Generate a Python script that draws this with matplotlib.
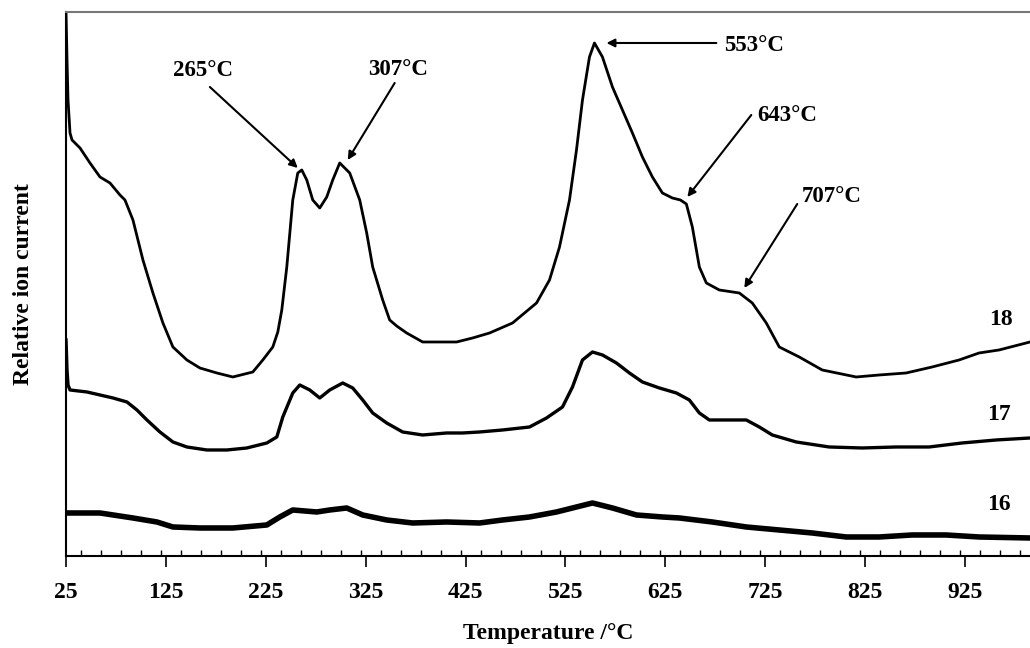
import matplotlib
matplotlib.use("Agg")
import matplotlib.pyplot as plt
from matplotlib.ticker import MultipleLocator, FixedLocator

plt.rcParams['font.family'] = ['Liberation Serif', 'DejaVu Serif']
plt.rcParams['font.weight'] = 'bold'

# (temperature in degC, relative ion current in arbitrary units)
t18 = [25, 26, 27, 29, 31, 39, 49, 59, 69, 79, 84, 92, 102, 112, 122, 132, 146, 159, 176, 192,
       212, 222, 232, 237, 241, 246, 252, 257, 261, 266, 272, 279, 286, 292, 299, 309, 319, 326,
       332, 342, 349, 356, 366, 382, 399, 416, 432, 449, 472, 496, 509, 519, 529, 536, 542, 549,
       554, 562, 572, 582, 592, 602, 612, 622, 632, 640, 646, 652, 659, 666, 679, 699, 712, 726,
       739, 759, 782, 816, 839, 866, 892, 919, 939, 959, 990]
y18 = [544, 496, 456, 423, 416, 408, 393, 379, 373, 361, 356, 336, 296, 263, 233, 209, 196, 188, 183, 179,
       184, 196, 209, 224, 246, 289, 356, 383, 386, 376, 356, 348, 359, 376, 393, 383, 356, 323,
       289, 256, 236, 230, 223, 214, 214, 214, 218, 223, 233, 253, 276, 309, 356, 406, 456, 499,
       513, 499, 469, 446, 423, 399, 379, 363, 358, 356, 352, 329, 289, 273, 266, 263, 253, 233,
       209, 199, 186, 179, 181, 183, 189, 196, 203, 206, 214]

t17 = [25, 26, 27, 29, 46, 59, 72, 86, 96, 106, 119, 132, 146, 166, 186, 206, 226, 236, 242, 252,
       259, 269, 279, 289, 302, 312, 322, 332, 346, 362, 382, 406, 422, 439, 462, 489, 506, 522,
       532, 542, 552, 562, 576, 589, 602, 619, 636, 649, 659, 669, 689, 706, 719, 732, 756, 789,
       822, 856, 889, 922, 956, 990]
y17 = [216, 186, 171, 166, 164, 161, 158, 154, 146, 136, 124, 114, 109, 106, 106, 108, 113, 119, 139, 163,
       171, 166, 158, 166, 173, 168, 156, 143, 133, 124, 121, 123, 123, 124, 126, 129, 138, 149,
       169, 196, 204, 201, 193, 183, 174, 168, 163, 156, 143, 136, 136, 136, 129, 121, 114, 109,
       108, 109, 109, 113, 116, 118]

t16 = [25, 59, 92, 116, 132, 159, 192, 226, 239, 252, 276, 289, 306, 322, 346, 372, 406, 439, 462,
       489, 516, 536, 552, 572, 596, 622, 639, 672, 706, 739, 772, 806, 839, 872, 906, 939, 990]
y16 = [43, 43, 38, 34, 29, 28, 28, 31, 39, 46, 44, 46, 48, 41, 36, 33, 34, 33, 36,
       39, 44, 49, 53, 48, 41, 39, 38, 34, 29, 26, 23, 19, 19, 21, 21, 19, 18]

peak_labels = ['265°C', '307°C', '553°C', '643°C', '707°C']
curve_labels = ['18', '17', '16']
x_ticks = [25, 125, 225, 325, 425, 525, 625, 725, 825, 925]

fig = plt.figure(figsize=(10.30, 6.48), dpi=100)
ax = fig.add_axes([0.0641, 0.142, 0.9359, 0.8395])

ax.plot(t18, y18, color='black', lw=2.0)
ax.plot(t17, y17, color='black', lw=2.4)
ax.plot(t16, y16, color='black', lw=4.0)

ax.set_xlim(25, 990)
ax.set_ylim(0, 544)

ax.xaxis.set_major_locator(FixedLocator(x_ticks))
ax.xaxis.set_minor_locator(MultipleLocator(20))
ax.set_yticks([])
ax.tick_params(axis='x', which='major', direction='out', length=8, width=1.2,
               labelsize=17, pad=11)
ax.tick_params(axis='x', which='minor', direction='in', length=4, width=1.0)

ax.spines['right'].set_visible(False)
ax.spines['top'].set_color('#777777')
ax.spines['top'].set_linewidth(1.5)
ax.spines['left'].set_linewidth(1.5)
ax.spines['bottom'].set_linewidth(1.5)

ax.set_xlabel('Temperature /°C', fontsize=17, fontweight='bold', labelpad=14)
ax.set_ylabel('Relative ion current', fontsize=17, fontweight='bold', labelpad=23)

# peak annotations: text anchor, arrow tail, arrow head
ann = [
    ((162, 480), 'center', (169, 469), (257, 388)),
    ((357, 481), 'center', (354, 473), (307, 396)),
    ((684, 505), 'left', (676, 513), (566, 513)),
    ((717, 435), 'left', (711, 441), (647, 359)),
    ((762, 354), 'left', (757, 352), (704, 268)),
]
for lab, (txy, ha, tail, head) in zip(peak_labels, ann):
    ax.text(txy[0], txy[1], lab, ha=ha, va='baseline', fontsize=16.5, fontweight='bold')
    ax.annotate('', xy=head, xytext=tail,
                arrowprops=dict(arrowstyle='-|>', color='black', lw=1.5,
                                mutation_scale=12, shrinkA=0, shrinkB=0))

for lab, (lx, ly) in zip(curve_labels, [(961, 231), (959, 136), (959, 46)]):
    ax.text(lx, ly, lab, ha='center', va='baseline', fontsize=17, fontweight='bold')

fig.savefig('out.png', dpi=100)
